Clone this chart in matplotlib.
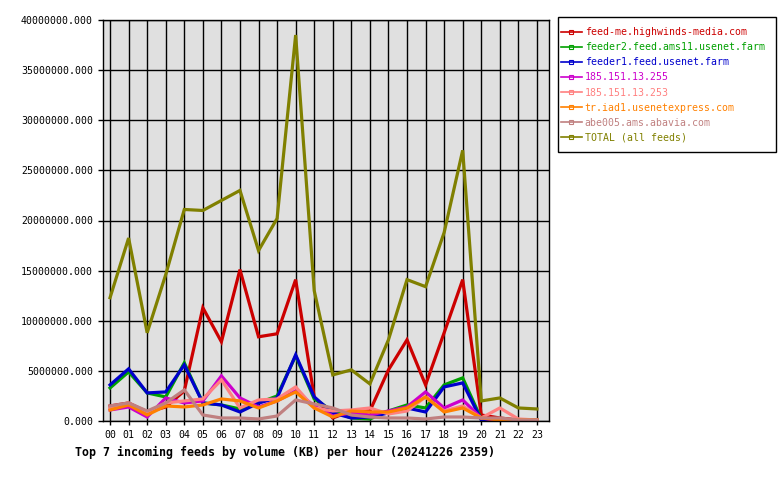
import numpy as np
import matplotlib.pyplot as plt
from matplotlib.lines import Line2D
from matplotlib.patches import Rectangle
from matplotlib.ticker import FuncFormatter, MultipleLocator

# hours of the day
hours = [f"{h:02d}" for h in range(24)]

# values in millions of KB
highwinds = [1.5, 1.8, 0.9, 1.4, 3.0, 11.3, 7.9, 15.1, 8.4, 8.7, 14.1, 2.4,
             0.3, 1.0, 1.0, 5.1, 8.1, 3.6, 8.8, 14.1, 0.6, 0.3, 0.1, 0.1]
feeder2 = [3.3, 4.9, 2.8, 2.4, 5.8, 1.8, 1.6, 1.2, 1.8, 2.5, 6.5, 2.2,
           1.0, 0.3, 0.2, 1.0, 1.6, 1.3, 3.6, 4.3, 0.2, 0.1, 0.1, 0.1]
feeder1 = [3.6, 5.2, 2.8, 2.9, 5.6, 1.8, 1.6, 0.9, 1.8, 2.3, 6.6, 2.4,
           0.8, 0.3, 0.4, 0.8, 1.3, 0.9, 3.4, 3.8, 0.1, 0.05, 0.05, 0.05]
ip_255 = [1.1, 1.4, 0.4, 2.3, 1.8, 2.0, 4.5, 2.3, 1.4, 2.0, 3.0, 1.5,
          0.5, 0.8, 0.6, 1.0, 1.4, 2.9, 1.3, 2.1, 0.3, 0.05, 0.05, 0.05]
ip_253 = [1.3, 1.8, 0.9, 1.8, 2.0, 2.2, 4.1, 1.3, 2.1, 2.2, 3.4, 1.3,
          1.0, 1.1, 1.3, 0.7, 1.0, 2.4, 1.0, 1.5, 0.3, 1.3, 0.2, 0.1]
usenetexpress = [1.1, 1.6, 0.6, 1.5, 1.4, 1.6, 2.2, 2.0, 1.3, 2.0, 2.9, 1.3,
                 0.4, 1.0, 0.9, 0.9, 1.3, 2.4, 0.9, 1.3, 0.3, 0.1, 0.1, 0.1]
abavia = [1.5, 1.8, 1.0, 1.8, 3.1, 0.6, 0.3, 0.3, 0.2, 0.5, 2.1, 1.7,
          1.3, 0.6, 0.4, 0.3, 0.3, 0.2, 0.4, 0.4, 0.3, 0.3, 0.1, 0.1]
total = [12.3, 18.25, 8.8, 14.6, 21.1, 21.0, 22.0, 23.0, 17.0, 20.2, 38.5, 13.0,
         4.6, 5.1, 3.7, 8.1, 14.1, 13.4, 18.8, 27.0, 2.0, 2.3, 1.3, 1.2]

names = ["feed-me.highwinds-media.com", "feeder2.feed.ams11.usenet.farm",
         "feeder1.feed.usenet.farm", "185.151.13.255", "185.151.13.253",
         "tr.iad1.usenetexpress.com", "abe005.ams.abavia.com", "TOTAL (all feeds)"]
series = [highwinds, feeder2, feeder1, ip_255, ip_253, usenetexpress, abavia, total]
colors = ["#cc0000", "#00a000", "#0000cc", "#cc00cc", "#ff8080",
          "#ff8000", "#c08080", "#808000"]

plt.rcParams['font.family'] = ['DejaVu Sans Mono']

fig = plt.figure(figsize=(7.8, 4.8), dpi=100)
ax = fig.add_axes([103 / 780, 1 - 421 / 480, 446 / 780, 401 / 480])
ax.set_facecolor("#e0e0e0")

x = np.arange(len(hours))
for vals, c in zip(series, colors):
    ax.plot(x, np.array(vals) * 1e6, color=c, linewidth=2.3, solid_joinstyle="miter")

ax.set_xlim(-0.38, 23.65)
ax.set_ylim(0, 40e6)
ax.set_xticks(x)
ax.set_xticklabels(hours, fontsize=7.1)
ax.yaxis.set_major_locator(MultipleLocator(5e6))
ax.yaxis.set_major_formatter(FuncFormatter(lambda v, p: f"{v:.3f}"))
ax.tick_params(axis="y", labelsize=7.1, length=3.6, width=1, direction="out", pad=3.6)
ax.tick_params(axis="x", length=3.2, width=1, direction="out", pad=3.5)
ax.grid(True, color="black", linewidth=1)
ax.set_axisbelow(True)
for s in ax.spines.values():
    s.set_color("black")
    s.set_linewidth(1)

# legend box drawn separately so the padding can match
fig.patches.append(Rectangle((558 / 780, 1 - 152 / 480), 218 / 780, 135 / 480,
                             transform=fig.transFigure, facecolor="white",
                             edgecolor="black", linewidth=1, zorder=0))
handles = [Line2D([0], [0], color=c, linewidth=1.2, marker="s", markersize=2.5,
                  markerfacecolor="none", markeredgewidth=0.8) for c in colors]
leg = fig.legend(handles, names, loc="upper left", bbox_to_anchor=(561 / 780, 1 - 27 / 480),
                 fontsize=7.1, frameon=False, handlelength=2.1,
                 handletextpad=0.3, borderpad=0, labelspacing=0.52, borderaxespad=0)
for t, c in zip(leg.get_texts(), colors):
    t.set_color(c)

fig.text(75 / 780, 1 - 452 / 480, "Top 7 incoming feeds by volume (KB) per hour (20241226 2359)",
         fontsize=8.4, fontweight="bold", va="center", ha="left")

fig.savefig("out.png", dpi=100)
